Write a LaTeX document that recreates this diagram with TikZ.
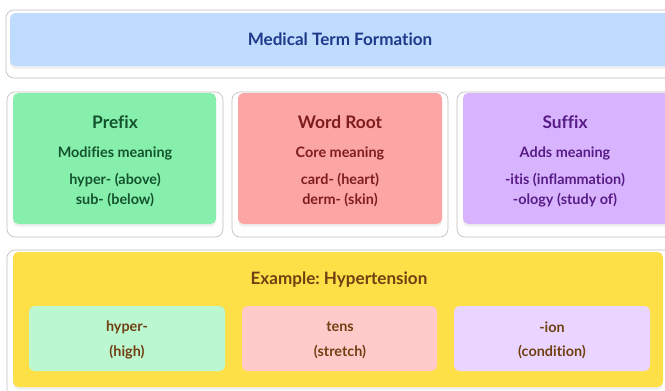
\documentclass[tikz,border=0pt]{standalone}
\usepackage{fontspec}
\setmainfont[Ligatures=NoCommon]{Lato}
\frenchspacing
\usetikzlibrary{shadows}

\definecolor{titlebg}{HTML}{BFDBFE}
\definecolor{titlefg}{HTML}{1E3A8A}
\definecolor{prefixbg}{HTML}{86EFAC}
\definecolor{prefixfg}{HTML}{14532D}
\definecolor{rootbg}{HTML}{FCA5A5}
\definecolor{rootfg}{HTML}{7F1D1D}
\definecolor{suffixbg}{HTML}{D8B4FE}
\definecolor{suffixfg}{HTML}{581C87}
\definecolor{examplebg}{HTML}{FDE047}
\definecolor{examplefg}{HTML}{713F12}
\definecolor{hyperbg}{HTML}{BBF7D0}
\definecolor{tensbg}{HTML}{FECACA}
\definecolor{ionbg}{HTML}{E9D5FF}

\begin{document}
\begin{tikzpicture}[x=0.75pt,y=-0.75pt,
    card/.style={fill=white,draw=black!25,line width=0.5pt,rounded corners=6pt},
    panel/.style={rounded corners=4pt,drop shadow={shadow xshift=0pt,shadow yshift=-2pt,opacity=0.12}},
    tile/.style={rounded corners=4pt},
    heading/.style={font=\bfseries\fontsize{13}{15}\selectfont,inner sep=0pt},
    subheading/.style={font=\bfseries\fontsize{10.8}{12}\selectfont,inner sep=0pt},
    item/.style={font=\bfseries\fontsize{10.8}{12}\selectfont,inner sep=0pt}]
\useasboundingbox (0,0) rectangle (665,390);
\clip (0,0) rectangle (665,390);
\fill[white] (0,0) rectangle (665,390);

\path[card] (6,10) rectangle (690,78);
\path[panel,fill=titlebg] (10,13) rectangle (690,66);
\node[heading,font=\bfseries\fontsize{12.8}{14}\selectfont,text=titlefg] (title) at (340,39) {Medical Term Formation};

\path[card] (7,92) rectangle (223,237);
\path[panel,fill=prefixbg] (13,93) rectangle (216,224);
\node[heading,text=prefixfg] (prefix) at (115,122) {Prefix};
\node[subheading,text=prefixfg] (prefixrole) at (115,153) {Modifies meaning};
\node[item,text=prefixfg] (prefixa) at (115,180) {hyper- (above)};
\node[item,text=prefixfg] (prefixb) at (115,200) {sub- (below)};

\path[card] (232,92) rectangle (448,237);
\path[panel,fill=rootbg] (238,93) rectangle (442,224);
\node[heading,text=rootfg] (root) at (340,122) {Word Root};
\node[subheading,text=rootfg] (rootrole) at (340,153) {Core meaning};
\node[item,text=rootfg] (roota) at (340,180) {card- (heart)};
\node[item,text=rootfg] (rootb) at (340,200) {derm- (skin)};

\path[card] (457,92) rectangle (690,237);
\path[panel,fill=suffixbg] (463,93) rectangle (690,224);
\node[heading,text=suffixfg] (suffix) at (565,122) {Suffix};
\node[subheading,text=suffixfg] (suffixrole) at (565,153) {Adds meaning};
\node[item,text=suffixfg] (suffixa) at (565,180) {-itis (inflammation)};
\node[item,text=suffixfg] (suffixb) at (565,200) {-ology (study of)};

\path[card] (7,250) rectangle (690,400);
\path[panel,fill=examplebg] (13,252) rectangle (663,387);
\node[heading,font=\bfseries\fontsize{12.8}{14}\selectfont,text=examplefg] (example) at (339,280) {Example: Hypertension};

\path[tile,fill=hyperbg] (29,306) rectangle (225,371);
\node[item,text=examplefg] (hyper) at (127,327) {hyper-};
\node[item,text=examplefg] (high) at (127,352) {(high)};

\path[tile,fill=tensbg] (242,306) rectangle (437,371);
\node[item,text=examplefg] (tens) at (340,327) {tens};
\node[item,text=examplefg] (stretch) at (340,352) {(stretch)};

\path[tile,fill=ionbg] (454,306) rectangle (650,371);
\node[item,text=examplefg] (ion) at (552,327) {-ion};
\node[item,text=examplefg] (condition) at (552,352) {(condition)};
\end{tikzpicture}
\end{document}
